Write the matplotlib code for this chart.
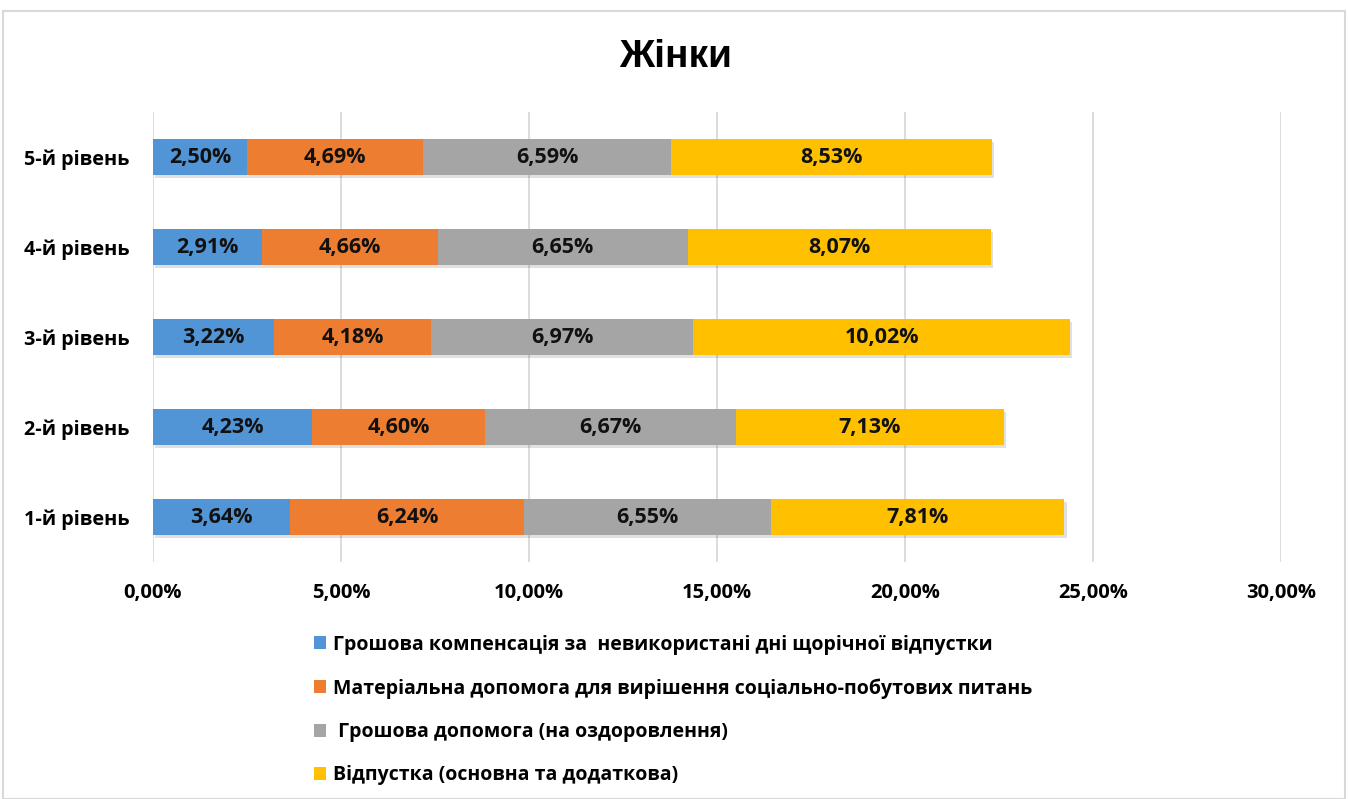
import matplotlib
matplotlib.use("Agg")
import matplotlib.pyplot as plt
from matplotlib.patches import Rectangle
import numpy as np

categories = ["1-й рівень", "2-й рівень", "3-й рівень", "4-й рівень", "5-й рівень"]
series_names = [
    "Грошова компенсація за  невикористані дні щорічної відпустки",
    "Матеріальна допомога для вирішення соціально-побутових питань",
    " Грошова допомога (на оздоровлення)",
    "Відпустка (основна та додаткова)",
]
compensation = [3.64, 4.23, 3.22, 2.91, 2.50]
material_aid = [6.24, 4.60, 4.18, 4.66, 4.69]
health_aid = [6.55, 6.67, 6.97, 6.65, 6.59]
vacation = [7.81, 7.13, 10.02, 8.07, 8.53]
colors = ["#5195D6", "#ED7D31", "#A5A5A5", "#FFC000"]
x_ticks = [0, 5, 10, 15, 20, 25, 30]

plt.rcParams['font.family'] = ['Open Sans', 'DejaVu Sans']

fig = plt.figure(figsize=(13.48, 7.99), dpi=100)
fig.patches.append(Rectangle((3/1348, 0), 1342/1348, 1 - 11/799, transform=fig.transFigure,
                             fill=False, edgecolor="#D9D9D9", linewidth=1.5))

ax = fig.add_axes([153/1348, 1 - 562/799, (1281 - 153)/1348, (562 - 112)/799])
y = np.arange(len(categories))
left = np.zeros(len(categories))
handles = []
for vals, col, name in zip([compensation, material_aid, health_aid, vacation], colors, series_names):
    vals = np.array(vals)
    ax.barh(y - 0.03, vals, left=left + 0.06, height=0.4, color="#000000", alpha=0.12, zorder=2)
    b = ax.barh(y, vals, left=left, height=0.4, color=col, zorder=3, label=name)
    handles.append(b)
    for yi, l, v in zip(y, left, vals):
        ax.text(l + v / 2, yi, f"{v:.2f}%".replace(".", ","), ha="center", va="center",
                fontsize=15.5, fontweight="bold", color="#111111", zorder=4)
    left += vals

ax.set_xlim(0, 30)
ax.set_ylim(-0.5, 4.5)
ax.set_xticks(x_ticks)
ax.set_xticklabels([f"{t:.2f}%".replace(".", ",") for t in x_ticks], fontsize=14.5, fontweight="bold")
ax.set_yticks(y)
ax.set_yticklabels(categories, fontsize=14.3, fontweight="bold")
ax.tick_params(length=0, pad=17, axis="y")
ax.tick_params(length=0, pad=15, axis="x")
ax.grid(axis="x", color="#D9D9D9", linewidth=1.3, zorder=0)
ax.set_axisbelow(True)
for s in ax.spines.values():
    s.set_visible(False)

fig.text(676/1348, 1 - 57/799, "Жінки", ha="center", va="center", fontsize=28,
         fontweight="bold", family=['Liberation Sans', 'DejaVu Sans'])

leg = fig.legend(handles=handles, loc="upper left", bbox_to_anchor=(306/1348, 1 - 627/799),
                 frameon=False, prop={"size": 14, "weight": "bold"}, handlelength=0.65,
                 handleheight=0.65, handletextpad=0.35, labelspacing=1.2, borderaxespad=0)

fig.savefig("out.png", dpi=100)
